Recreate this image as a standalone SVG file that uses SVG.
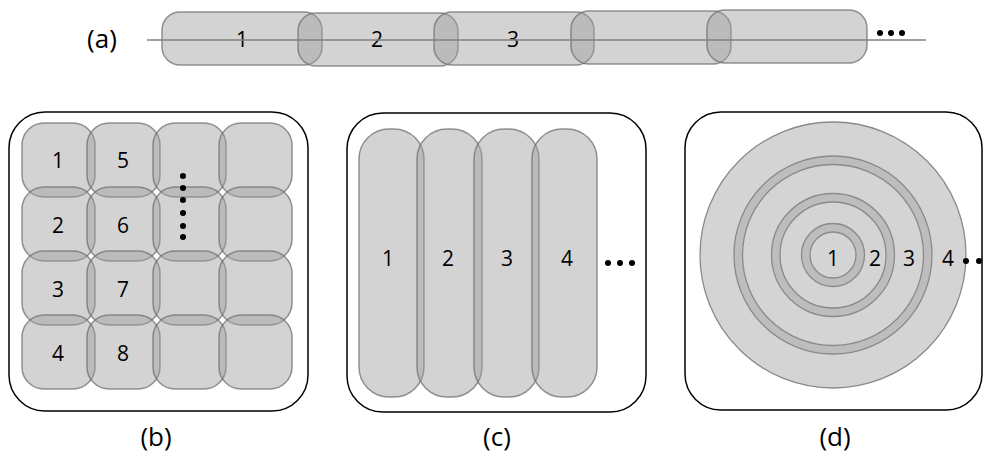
<svg xmlns="http://www.w3.org/2000/svg" width="988" height="454" viewBox="0 0 988 454">
  <style>
    .seg { fill: #9e9e9e; fill-opacity: 0.45; stroke: #707070; stroke-opacity: 0.75; stroke-width: 1.5; }
    .frame { fill: none; stroke: #000; stroke-width: 1.5; }
    .lbl { font-family: "Open Sans", "Liberation Sans", Arial, sans-serif; font-size: 21px; fill: #000; text-anchor: middle; dominant-baseline: central; }
    .cap { font-family: "Open Sans", "Liberation Sans", Arial, sans-serif; font-size: 26px; fill: #000; text-anchor: middle; dominant-baseline: central; }
    .axis { stroke: #808080; stroke-width: 1.3; }
    .disk { fill: #d4d4d4; stroke: #8a8a8a; stroke-width: 1.3; }
    .ring { fill: #bdbdbd; stroke: #8a8a8a; stroke-width: 1.3; }
  </style>

  <!-- (a) linear chain of capsules along an axis -->
  <g id="panel-a">
    <text class="cap" x="102" y="38">(a)</text>
    <g id="a-seg1"><rect class="seg" x="162" y="12" width="160" height="53" rx="18"/><text class="lbl" x="242" y="39">1</text></g>
    <g id="a-seg2"><rect class="seg" x="298" y="13" width="160" height="53" rx="18"/><text class="lbl" x="377" y="39">2</text></g>
    <g id="a-seg3"><rect class="seg" x="434" y="12" width="160" height="53" rx="18"/><text class="lbl" x="513" y="39">3</text></g>
    <g id="a-seg4"><rect class="seg" x="571" y="11" width="160" height="53" rx="18"/></g>
    <g id="a-seg5"><rect class="seg" x="707" y="10" width="160" height="53" rx="18"/></g>
    <line class="axis" x1="147" y1="40" x2="926" y2="40"/>
    <g id="a-more" fill="#000">
      <circle cx="880" cy="33" r="3"/><circle cx="891" cy="33" r="3"/><circle cx="902" cy="33" r="3"/>
    </g>
  </g>

  <!-- (b) 4x4 grid of overlapping tiles -->
  <g id="panel-b">
    <rect class="frame" x="9" y="112" width="299" height="299" rx="36"/>
    <g id="b-tiles">
      <rect class="seg" x="22" y="123" width="73" height="74" rx="22"/>
      <rect class="seg" x="22" y="187" width="73" height="74" rx="22"/>
      <rect class="seg" x="22" y="251" width="73" height="74" rx="22"/>
      <rect class="seg" x="22" y="315" width="73" height="74" rx="22"/>
      <rect class="seg" x="87" y="123" width="73" height="74" rx="22"/>
      <rect class="seg" x="87" y="187" width="73" height="74" rx="22"/>
      <rect class="seg" x="87" y="251" width="73" height="74" rx="22"/>
      <rect class="seg" x="87" y="315" width="73" height="74" rx="22"/>
      <rect class="seg" x="153" y="123" width="73" height="74" rx="22"/>
      <rect class="seg" x="153" y="187" width="73" height="74" rx="22"/>
      <rect class="seg" x="153" y="251" width="73" height="74" rx="22"/>
      <rect class="seg" x="153" y="315" width="73" height="74" rx="22"/>
      <rect class="seg" x="219" y="123" width="73" height="74" rx="22"/>
      <rect class="seg" x="219" y="187" width="73" height="74" rx="22"/>
      <rect class="seg" x="219" y="251" width="73" height="74" rx="22"/>
      <rect class="seg" x="219" y="315" width="73" height="74" rx="22"/>
    </g>
    <text class="lbl" x="58" y="160">1</text>
    <text class="lbl" x="58" y="225">2</text>
    <text class="lbl" x="58" y="289">3</text>
    <text class="lbl" x="58" y="353">4</text>
    <text class="lbl" x="123" y="160">5</text>
    <text class="lbl" x="123" y="225">6</text>
    <text class="lbl" x="123" y="289">7</text>
    <text class="lbl" x="123" y="353">8</text>
    <g id="b-more" fill="#000">
      <circle cx="183" cy="176" r="3"/><circle cx="183" cy="188" r="3"/><circle cx="183" cy="200" r="3"/>
      <circle cx="183" cy="213" r="3"/><circle cx="183" cy="226" r="3"/><circle cx="183" cy="237" r="3"/>
    </g>
    <text class="cap" x="156" y="436">(b)</text>
  </g>

  <!-- (c) vertical strips -->
  <g id="panel-c">
    <rect class="frame" x="347" y="113" width="299" height="299" rx="36"/>
    <g id="c-strip1"><rect class="seg" x="359" y="129" width="65" height="268" rx="30"/><text class="lbl" x="388" y="258">1</text></g>
    <g id="c-strip2"><rect class="seg" x="417" y="129" width="65" height="268" rx="30"/><text class="lbl" x="448" y="258">2</text></g>
    <g id="c-strip3"><rect class="seg" x="474" y="129" width="65" height="268" rx="30"/><text class="lbl" x="507" y="258">3</text></g>
    <g id="c-strip4"><rect class="seg" x="532" y="129" width="65" height="268" rx="30"/><text class="lbl" x="567" y="258">4</text></g>
    <g id="c-more" fill="#000">
      <circle cx="608" cy="263" r="3"/><circle cx="620" cy="263" r="3"/><circle cx="632" cy="263" r="3"/>
    </g>
    <text class="cap" x="497" y="436">(c)</text>
  </g>

  <!-- (d) concentric rings -->
  <g id="panel-d">
    <rect class="frame" x="685" y="112" width="297" height="298" rx="36"/>
    <circle class="disk" cx="833" cy="255" r="133"/>
    <g id="d-ring3"><circle class="ring" cx="833" cy="255" r="99"/><circle class="disk" cx="833" cy="255" r="90.5"/></g>
    <g id="d-ring2"><circle class="ring" cx="833" cy="255" r="61.5"/><circle class="disk" cx="833" cy="255" r="53"/></g>
    <g id="d-ring1"><circle class="ring" cx="833" cy="255" r="31.5"/><circle class="disk" cx="833" cy="255" r="23"/></g>
    <text class="lbl" x="833" y="258">1</text>
    <text class="lbl" x="875" y="258">2</text>
    <text class="lbl" x="909" y="258">3</text>
    <text class="lbl" x="948" y="258">4</text>
    <g id="d-more" fill="#000">
      <circle cx="966" cy="261" r="3"/><circle cx="979" cy="261" r="3"/>
    </g>
    <text class="cap" x="835" y="436">(d)</text>
  </g>
</svg>
